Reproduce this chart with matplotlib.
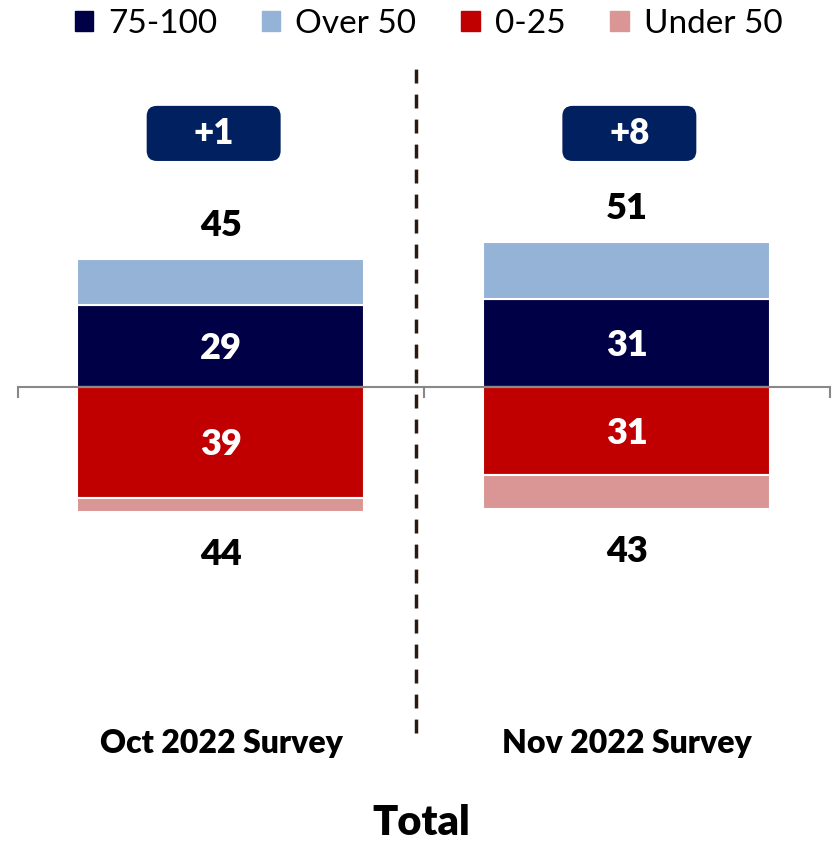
import numpy as np
import matplotlib.pyplot as plt
from matplotlib.patches import Patch, FancyBboxPatch

plt.rcParams['font.family'] = ['Lato', 'DejaVu Sans']

surveys = ['Oct 2022 Survey', 'Nov 2022 Survey']
top_inner = [29, 31]        # 75-100
top_total = [45, 51]        # Over 50
bottom_inner = [39, 31]     # 0-25
bottom_total = [44, 43]     # Under 50
net = ['+1', '+8']

c_dark = '#000046'
c_light = '#95b3d7'
c_red = '#c00000'
c_pink = '#d99694'
c_badge = '#002060'

top_inner = np.array(top_inner)
top_total = np.array(top_total)
bottom_inner = np.array(bottom_inner)
bottom_total = np.array(bottom_total)

fig = plt.figure(figsize=(8.37, 8.44), dpi=100)
ax = fig.add_axes([0.0215, 0.0872, 0.970, 0.8412])

x = np.arange(len(surveys))
w = 0.707
ax.bar(x, top_inner, w, color=c_dark, edgecolor='white', linewidth=1.5)
ax.bar(x, top_total - top_inner, w, bottom=top_inner, color=c_light, edgecolor='white', linewidth=1.5)
ax.bar(x, -bottom_inner, w, color=c_red, edgecolor='white', linewidth=1.5)
ax.bar(x, -(bottom_total - bottom_inner), w, bottom=-bottom_inner, color=c_pink, edgecolor='white', linewidth=1.5)

ax.set_xlim(-0.5, 1.5)
ax.set_ylim(-135, 115)

# zero line with small ticks
ax.axhline(0, color='#888888', lw=1.5, zorder=3)
for xt in [-0.5, 0.5, 1.5]:
    ax.plot([xt, xt], [0, -3.5], color='#888888', lw=1.5, zorder=3, clip_on=False)

# divider
ax.plot([0.48, 0.48], [-122, 113], color='#2a1a12', lw=2.5, ls=(0, (4, 3.2)), zorder=4)

bold = 'heavy'
for i in range(len(surveys)):
    ax.text(x[i], top_inner[i] / 2 - 0.8, str(top_inner[i]), color='white', ha='center', va='center',
            fontsize=26, fontweight=bold)
    ax.text(x[i], -bottom_inner[i] / 2 - 0.8, str(bottom_inner[i]), color='white', ha='center', va='center',
            fontsize=26, fontweight=bold)
    ax.text(x[i], top_total[i] + 12, str(top_total[i]), color='black', ha='center', va='center',
            fontsize=26, fontweight=bold)
    ax.text(x[i], -bottom_total[i] - 15, str(bottom_total[i]), color='black', ha='center', va='center',
            fontsize=26, fontweight=bold)
    ax.text(x[i], -125.5, surveys[i], color='black', ha='center', va='center',
            fontsize=23, fontweight=bold)
    # net badge
    bx = x[i] - 0.018 if i == 0 else x[i] + 0.006
    box = FancyBboxPatch((bx - 0.165, 79.6), 0.33, 19.4,
                         boxstyle='round,pad=0,rounding_size=0.025',
                         mutation_aspect=143,
                         fc=c_badge, ec='none', zorder=5)
    ax.add_patch(box)
    ax.text(bx, 89.3, net[i], color='white', ha='center', va='center',
            fontsize=25, fontweight=bold, zorder=6)

ax.axis('off')

fig.text(0.503, 0.025, 'Total', ha='center', va='center', fontsize=30, fontweight=bold)

handles = [Patch(color=c_dark), Patch(color=c_light), Patch(color=c_red), Patch(color=c_pink)]
fig.legend(handles, ['75-100', 'Over 50', '0-25', 'Under 50'], loc='center', bbox_to_anchor=(0.512, 0.972),
           ncol=4, frameon=False, fontsize=24, handlelength=0.55, handleheight=0.55,
           handletextpad=0.45, columnspacing=1.35)

fig.savefig('out.png', dpi=100)
